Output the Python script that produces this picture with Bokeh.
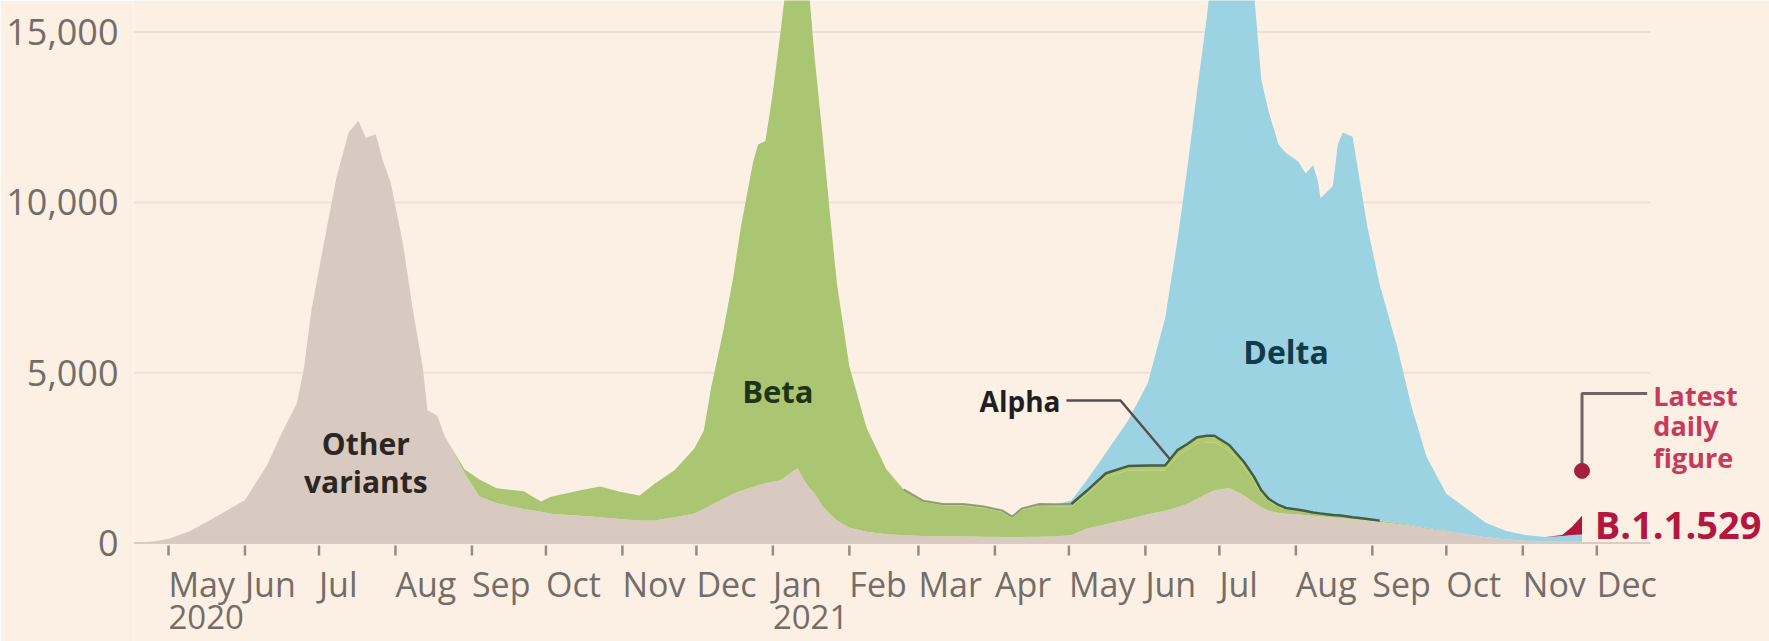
import pandas as pd
import numpy as np
from bokeh.plotting import figure
from bokeh.models import ColumnDataSource, FixedTicker, Range1d
from bokeh.core.properties import value
from bokeh.embed import file_html
from bokeh.resources import INLINE

# ---------------- data (daily cases, 7-day average) ----------------
dates = [
    "2020-04-16", "2020-04-24", "2020-05-01", "2020-05-10", "2020-05-19", "2020-06-01",
    "2020-06-10", "2020-06-16", "2020-06-22", "2020-06-25", "2020-06-28", "2020-07-03",
    "2020-07-08", "2020-07-13", "2020-07-17", "2020-07-20", "2020-07-24", "2020-07-27",
    "2020-07-30", "2020-08-04", "2020-08-08", "2020-08-12", "2020-08-14", "2020-08-18",
    "2020-08-21", "2020-08-24", "2020-08-29", "2020-09-04", "2020-09-11", "2020-09-22",
    "2020-09-29", "2020-10-03", "2020-10-15", "2020-10-23", "2020-10-31", "2020-11-08",
    "2020-11-14", "2020-11-22", "2020-11-30", "2020-12-04", "2020-12-07", "2020-12-12",
    "2020-12-16", "2020-12-19", "2020-12-24", "2020-12-26", "2020-12-29", "2021-01-01",
    "2021-01-04", "2021-01-08", "2021-01-11", "2021-01-14", "2021-01-16", "2021-01-18",
    "2021-01-21", "2021-01-24", "2021-01-27", "2021-02-01", "2021-02-08", "2021-02-16",
    "2021-02-23", "2021-03-03", "2021-03-11", "2021-03-19", "2021-03-27", "2021-04-04",
    "2021-04-08", "2021-04-12", "2021-04-19", "2021-04-26", "2021-05-02", "2021-05-08",
    "2021-05-16", "2021-05-25", "2021-06-02", "2021-06-09", "2021-06-14", "2021-06-18",
    "2021-06-22", "2021-06-26", "2021-06-29", "2021-07-05", "2021-07-11", "2021-07-15",
    "2021-07-18", "2021-07-21", "2021-07-25", "2021-07-28", "2021-08-02", "2021-08-05",
    "2021-08-08", "2021-08-10", "2021-08-11", "2021-08-16", "2021-08-18", "2021-08-20",
    "2021-08-24", "2021-08-27", "2021-08-30", "2021-09-04", "2021-09-11", "2021-09-17",
    "2021-09-23", "2021-10-01", "2021-10-09", "2021-10-17", "2021-10-25", "2021-11-02",
    "2021-11-10", "2021-11-17", "2021-11-21", "2021-11-25",
]
other = [
    0, 40, 120, 360, 720, 1265,
    2290, 3250, 4100, 5180, 6870, 8800,
    10700, 12050, 12400, 11900, 12000, 11200,
    10600, 8800, 6870, 5180, 3900, 3740,
    3130, 2770, 2050, 1370, 1170, 1000,
    920, 860, 800, 760, 710, 660,
    660, 760, 860, 1000, 1120, 1300,
    1450, 1540, 1650, 1700, 1760, 1800,
    1840, 2050, 2200, 1800, 1600, 1450,
    1100, 860, 660, 450, 330, 260,
    230, 210, 200, 200, 190, 180,
    170, 180, 190, 200, 230, 420,
    550, 700, 850, 950, 1050, 1150,
    1300, 1450, 1550, 1620, 1400, 1200,
    1050, 950, 880, 860, 850, 820,
    800, 790, 780, 750, 740, 730,
    700, 680, 660, 620, 560, 500,
    430, 340, 250, 170, 110, 70,
    50, 40, 40, 40,
]
beta = [
    0, 0, 0, 0, 0, 0,
    0, 0, 0, 0, 0, 0,
    0, 0, 0, 0, 0, 0,
    0, 0, 0, 0, 0, 0,
    0, 0, 120, 500, 440, 520,
    300, 500, 750, 900, 800, 740,
    1080, 1370, 1900, 2300, 3460, 4970,
    6380, 7740, 9550, 10000, 10040, 11450,
    13100, 15350, 16800, 15700, 14300, 12750,
    10950, 8900, 6930, 4730, 3050, 1910,
    1330, 1000, 910, 900, 850, 730,
    560, 790, 900, 880, 850, 1000,
    1380, 1430, 1290, 1180, 1510, 1580,
    1620, 1500, 1400, 1080, 820, 620,
    400, 270, 180, 130, 100, 90,
    80, 70, 70, 60, 60, 55,
    50, 45, 40, 35, 30, 25,
    20, 15, 10, 5, 0, 0,
    0, 0, 0, 0,
]
alpha = [
    0, 0, 0, 0, 0, 0,
    0, 0, 0, 0, 0, 0,
    0, 0, 0, 0, 0, 0,
    0, 0, 0, 0, 0, 0,
    0, 0, 0, 0, 0, 0,
    0, 0, 0, 0, 0, 0,
    0, 0, 0, 0, 0, 0,
    0, 0, 0, 0, 0, 0,
    0, 0, 0, 0, 0, 0,
    0, 0, 0, 0, 0, 0,
    20, 30, 40, 45, 45, 50,
    50, 50, 55, 60, 70, 100,
    120, 130, 140, 150, 170, 180,
    190, 200, 200, 180, 160, 130,
    100, 80, 60, 40, 30, 30,
    20, 20, 20, 15, 15, 15,
    10, 10, 10, 5, 0, 0,
    0, 0, 0, 0, 0, 0,
    0, 0, 0, 0,
]
delta = [
    0, 0, 0, 0, 0, 0,
    0, 0, 0, 0, 0, 0,
    0, 0, 0, 0, 0, 0,
    0, 0, 0, 0, 0, 0,
    0, 0, 0, 0, 0, 0,
    0, 0, 0, 0, 0, 0,
    0, 0, 0, 0, 0, 0,
    0, 0, 0, 0, 0, 0,
    0, 0, 0, 0, 0, 0,
    0, 0, 0, 0, 0, 0,
    0, 0, 0, 0, 0, 0,
    0, 0, 0, 0, 100, 300,
    600, 1340, 2420, 4320, 6170, 8090,
    10190, 12350, 14350, 17020, 17120, 14250,
    12050, 11350, 10580, 10420, 10220, 9910,
    10200, 9720, 9250, 9655, 10885, 11250,
    11170, 9865, 8570, 6930, 5190, 3455,
    2080, 1095, 760, 425, 250, 170,
    130, 170, 200, 210,
]
b11529 = [0] * 109 + [30, 240, 550]

latest_date = "2021-11-25"
latest_value = 2120

y_ticks = [0, 5000, 10000, 15000]
y_tick_labels = ["0", "5,000", "10,000", "15,000"]
month_starts = list(pd.date_range("2020-05-01", "2021-12-01", freq="MS"))
month_labels = ["May", "Jun", "Jul", "Aug", "Sep", "Oct", "Nov", "Dec", "Jan", "Feb",
                "Mar", "Apr", "May", "Jun", "Jul", "Aug", "Sep", "Oct", "Nov", "Dec"]
year_dates = ["2020-05-01", "2021-01-01"]
year_labels = ["2020", "2021"]

# ---------------- styling ----------------
BG = "#fcf0e5"
C_OTHER = "#d8cac0"
C_BETA = "#abc672"
C_ALPHA = "#b3c96c"
C_ALPHA_LINE = "#35523a"
C_DELTA = "#9bd3e3"
C_OMI = "#b0173f"
TXT_AXIS = "#746d67"
FONT = "Open Sans"

df = pd.DataFrame({
    "date": pd.to_datetime(dates),
    "other": other, "beta": beta, "alpha": alpha, "delta": delta, "b11529": b11529,
})
source = ColumnDataSource(df)

def ts(s):
    return pd.Timestamp(s)

DAY = pd.Timedelta(days=1)
x_start = ts("2020-05-01") - 14.19 * DAY
x_end = ts("2020-05-01") + 649.0 * DAY
grid_end = ts("2020-05-01") + 600.7 * DAY

p = figure(width=1769, height=641, x_axis_type="datetime",
           x_range=Range1d(x_start, x_end), y_range=Range1d(-2888, 15926),
           output_backend="svg", toolbar_location=None,
           min_border_left=133, min_border_right=0, min_border_top=0, min_border_bottom=0,
           background_fill_color=BG, border_fill_color=BG, outline_line_color=None)

# horizontal gridlines (ending before the annotation column)
p.segment(x0=[x_start] * 3, x1=[grid_end] * 3, y0=y_ticks[1:], y1=y_ticks[1:],
          line_color="#eee1d5", line_width=2)
p.segment(x0=[x_start], x1=[grid_end], y0=[0], y1=[0], line_color="#d9ccc1", line_width=2)

p.varea_stack(stackers=["other", "beta", "alpha", "delta", "b11529"], x="date",
              color=[C_OTHER, C_BETA, C_ALPHA, C_DELTA, C_OMI], source=source)

# Alpha top edge line (faint while Alpha is tiny, dark once it grows)
top_alpha = (df["other"] + df["beta"] + df["alpha"]).to_numpy()
has_alpha = (df["alpha"] > 0).to_numpy()
early = has_alpha & (df["date"] <= ts("2021-05-02")).to_numpy()
late = has_alpha & (df["date"] >= ts("2021-05-02")).to_numpy()
p.line(df["date"][early], top_alpha[early], line_color="#7f8c66", line_width=2, line_alpha=0.8)
p.line(df["date"][late], top_alpha[late], line_color=C_ALPHA_LINE, line_width=2.5, line_alpha=0.9)

# y axis
p.yaxis.ticker = FixedTicker(ticks=y_ticks)
p.yaxis.major_label_overrides = dict(zip(y_ticks, y_tick_labels))
p.yaxis.axis_line_color = None
p.yaxis.major_tick_line_color = None
p.yaxis.minor_tick_line_color = None
p.yaxis.major_label_text_font = FONT
p.yaxis.major_label_text_font_size = "36px"
p.yaxis.major_label_text_color = TXT_AXIS
p.yaxis.major_label_standoff = 9
p.xaxis.visible = False
p.xgrid.grid_line_color = None
p.ygrid.grid_line_color = None

# x ticks and month / year labels (left-aligned at the month starts)
n = len(month_starts)
p.segment(x0=month_starts, x1=month_starts, y0=[-70] * n, y1=[-365] * n,
          line_color="#958c85", line_width=2.5)
p.text(x=month_starts, y=[-1200] * n, text=month_labels, text_align="left",
       text_baseline="middle", text_font=value(FONT), text_font_size=value("34px"),
       text_color=TXT_AXIS)
p.text(x=[ts(d) for d in year_dates], y=[-2175] * 2, text=year_labels, text_align="left",
       text_baseline="middle", text_font=value(FONT), text_font_size=value("33px"),
       text_color=TXT_AXIS)

def lbl(x, y, text, size, color, align="center"):
    p.text(x=[ts(x)], y=[y], text=[text], text_align=align, text_baseline="middle",
           text_font=value(FONT), text_font_size=value(size), text_font_style="bold",
           text_color=color)

lbl("2020-07-20", 2938, "Other", "30px", "#2b2623")
lbl("2020-07-20", 1800, "variants", "30px", "#2b2623")
lbl("2021-01-03", 4450, "Beta", "31px", "#1e3419")
lbl("2021-07-28", 5620, "Delta", "32px", "#0f3b4a")
lbl("2021-04-27 14:00", 4185, "Alpha", "28px", "#1f1f1f", align="right")

# Alpha leader line
lead_x = [ts("2021-04-30"), ts("2021-05-21 22:00"), ts("2021-06-11")]
lead_end = float(np.interp(lead_x[-1].value, df["date"].astype("int64").to_numpy(), top_alpha))
p.line(lead_x, [4185, 4185, lead_end], line_color="#55504c", line_width=2.5)

# latest daily figure annotation
p.line([ts(latest_date), ts(latest_date), ts("2020-05-01") + 599.4 * DAY],
       [latest_value, 4391, 4391], line_color="#6f6662", line_width=3)
p.scatter([ts(latest_date)], [latest_value], size=15, color="#a61f3f")
lbl("2021-12-23 22:00", 4333, "Latest", "27px", "#c83a5c", align="left")
lbl("2021-12-23 22:00", 3453, "daily", "27px", "#c83a5c", align="left")
lbl("2021-12-23 22:00", 2513, "figure", "27px", "#c83a5c", align="left")
lbl("2021-11-30 04:00", 575, "B.1.1.529", "38px", "#b3173f", align="left")

open("out.html", "w").write(file_html(p, INLINE))
